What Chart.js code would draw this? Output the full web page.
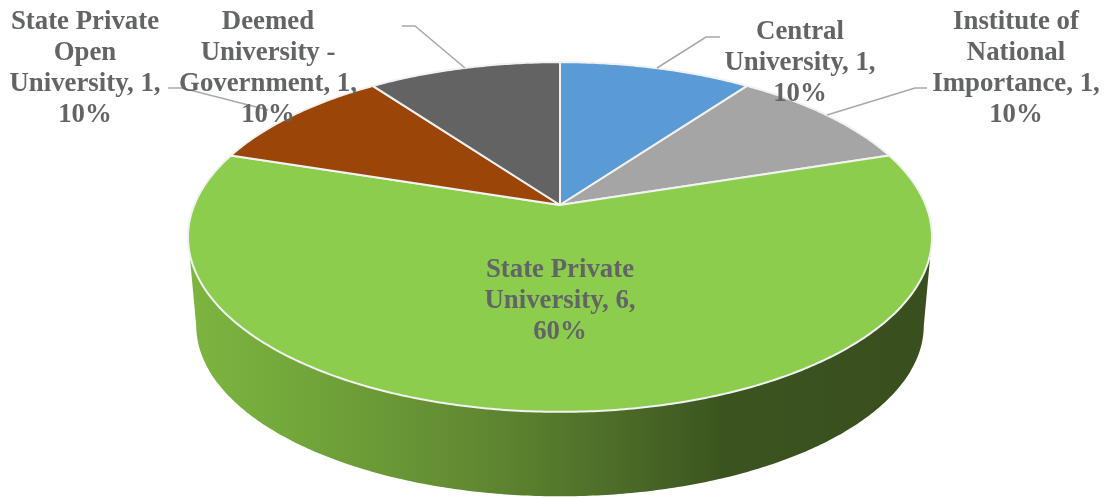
<!DOCTYPE html>
<html><head><meta charset="utf-8">
<style>html,body{margin:0;padding:0;background:#fff;overflow:hidden}canvas{display:block}</style>
<script src="https://cdn.jsdelivr.net/npm/chart.js@4"></script></head>
<body><canvas id="c" width="1113" height="499"></canvas>
<script>
const categories = ["Central University","Institute of National Importance","State Private University","Deemed University - Government","State Private Open University"];
const values = [1,1,6,1,1];
const sliceColors = ["#5b9bd5","#a5a5a5","#8ccd4e","#9c4509","#636363"];
const labelLines = [
  ["Central","University, 1,","10%"],
  ["Institute of","National","Importance, 1,","10%"],
  ["State Private","University, 6,","60%"],
  ["Deemed","University -","Government, 1,","10%"],
  ["State Private","Open","University, 1,","10%"]
];
const labelCenters = [[800,32],[1016,22],[560,270],[268,22],[85,22]];
const leaders = [
  [[720,37],[706,37],[657,68]],
  [[927,88],[915,88],[827,115]],
  [[168,88],[182,88],[268,110]],
  [[402,26],[415,26],[465,68]]
];
const sideStops = [[0,"#7db540"],[0.15,"#72a63a"],[0.38,"#618a32"],[0.55,"#4f7029"],[0.72,"#3b541f"],[1,"#394f1e"]];

const K=0.183, R=365.7, S=169, CX=560, CY=205, DEPTH=89, BOT=0.978;
function proj(a,f,dy){const u=Math.cos(a),v=Math.sin(a),w=1-K*v;
  return [CX+f*R*u/w, CY+dy+f*S*v/w];}
function samples(s,e){const n=Math.max(2,Math.ceil((e-s)/0.01));const o=[];
  for(let i=0;i<=n;i++)o.push(s+(e-s)*i/n);return o;}
function extremes(pts){let lo=0,hi=0;pts.forEach((p,i)=>{if(p[0]<pts[lo][0])lo=i;if(p[0]>pts[hi][0])hi=i;});return [hi,lo];}

const pie3d={id:'pie3d',
  beforeDatasetDraw(chart){
    const ctx=chart.ctx, arcs=chart.getDatasetMeta(0).data;
    ctx.save();
    const g=ctx.createLinearGradient(190,0,932,0);
    sideStops.forEach(s=>g.addColorStop(s[0],s[1]));
    // side wall of the slice that faces the viewer
    arcs.forEach(el=>{
      if(!(el.startAngle<Math.PI/2 && el.endAngle>Math.PI/2)) return;
      const as=samples(el.startAngle,el.endAngle);
      const top=as.map(a=>proj(a,1,0)), bot=as.map(a=>proj(a,BOT,DEPTH));
      const [th,tl]=extremes(top), [bh,bl]=extremes(bot);
      ctx.beginPath();
      for(let i=th;i<=tl;i++){i===th?ctx.moveTo(top[i][0],top[i][1]):ctx.lineTo(top[i][0],top[i][1]);}
      for(let i=bl;i>=bh;i--)ctx.lineTo(bot[i][0],bot[i][1]);
      ctx.closePath();ctx.fillStyle=g;ctx.fill();
    });
    // top-face wedges
    arcs.forEach(el=>{
      ctx.beginPath();ctx.moveTo(CX,CY);
      samples(el.startAngle,el.endAngle).forEach(a=>{const p=proj(a,1,0);ctx.lineTo(p[0],p[1]);});
      ctx.closePath();
      ctx.fillStyle=el.options.backgroundColor;ctx.fill();
      ctx.lineWidth=2;ctx.strokeStyle="#f2f2f2";ctx.lineJoin="round";ctx.stroke();
    });
    ctx.restore();
    return false;
  },
  afterDatasetsDraw(chart){
    const ctx=chart.ctx;
    ctx.save();
    ctx.strokeStyle="#a9a9a9";ctx.lineWidth=1.6;
    leaders.forEach(l=>{ctx.beginPath();l.forEach((p,i)=>i?ctx.lineTo(p[0],p[1]):ctx.moveTo(p[0],p[1]));ctx.stroke();});
    ctx.fillStyle="#636466";ctx.font='bold 26.8px "Liberation Serif"';
    ctx.textAlign="center";ctx.textBaseline="middle";
    labelLines.forEach((ls,i)=>ls.forEach((t,j)=>ctx.fillText(t,labelCenters[i][0],labelCenters[i][1]+j*31)));
    ctx.restore();
  }
};
new Chart(document.getElementById('c'),{
  type:'pie',
  data:{labels:categories,datasets:[{data:values,backgroundColor:sliceColors,borderWidth:0}]},
  options:{responsive:false,animation:false,events:[],
    plugins:{legend:{display:false},tooltip:{enabled:false},title:{display:false}}},
  plugins:[pie3d]
});
</script></body></html>
